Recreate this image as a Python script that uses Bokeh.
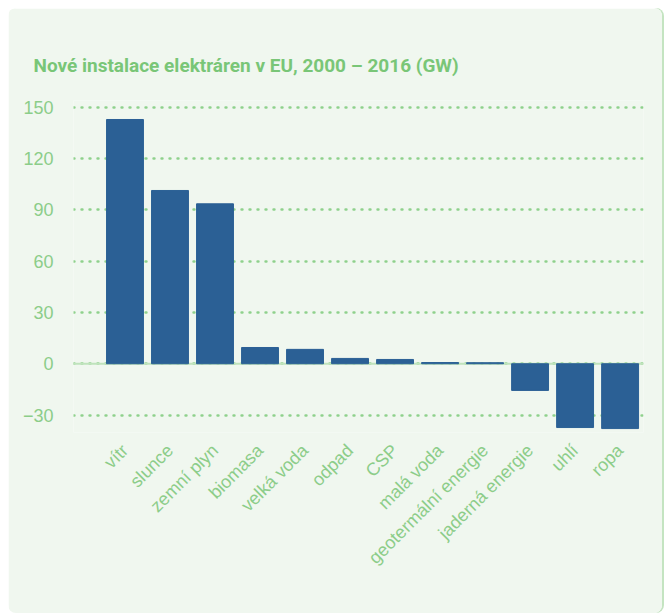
import math
from bokeh.plotting import figure
from bokeh.models import FixedTicker, Range1d, Span, ColumnDataSource
from bokeh.embed import file_html
from bokeh.resources import INLINE

categories = ["vítr", "slunce", "zemní plyn", "biomasa", "velká voda", "odpad", "CSP",
              "malá voda", "geotermální energie", "jaderná energie", "uhlí", "ropa"]
values = [142.8, 101.3, 93.5, 9.5, 8.4, 3.1, 2.5, 0.7, 0.6, -15.6, -37.3, -37.9]
y_ticks = [-30, 0, 30, 60, 90, 120, 150]
title_text = "Nové instalace elektráren v EU, 2000 – 2016 (GW)"

PANEL = "#f0f7ef"
BAR = "#2b6095"
GREEN_TXT = "#8ccd89"
TITLE_GREEN = "#79c677"
GRID = "#8fd18c"

src = ColumnDataSource(dict(x=list(range(len(categories))), top=values))

p = figure(width=654, height=605, output_backend="svg", toolbar_location=None,
           x_range=Range1d(-1.144, 11.52), y_range=Range1d(-40.2, 153.9),
           min_border_left=65, min_border_right=19, min_border_top=92, min_border_bottom=181,
           background_fill_color=PANEL, border_fill_color=PANEL, outline_line_color=None)
p.margin = (8, 2, 1, 8)
p.styles = {"border-radius": "8px", "overflow": "hidden", "box-shadow": "2px 0 0 #c4e4c1"}

p.title.text = title_text
p.title.text_font = "Roboto"
p.title.text_font_style = "bold"
p.title.text_font_size = "19px"
p.title.text_color = TITLE_GREEN
p.title.align = "left"
p.title.offset = -40
p.title.standoff = 48

p.add_layout(Span(location=0, dimension="width", line_color="#bfe3bc", line_width=2, level="underlay"))

p.vbar(x="x", top="top", bottom=0, width=0.82, color=BAR, source=src)

p.xgrid.grid_line_color = None
p.ygrid.ticker = FixedTicker(ticks=y_ticks)
p.ygrid.grid_line_color = GRID
p.ygrid.grid_line_width = 2.4
p.ygrid.grid_line_dash = "1 7"
p.ygrid.grid_line_cap = "round"

xa = p.xaxis[0]
xa.ticker = FixedTicker(ticks=list(range(len(categories))))
xa.major_label_overrides = {i: c for i, c in enumerate(categories)}
xa.major_label_orientation = math.pi / 4
xa.axis_line_color = None
xa.major_tick_line_color = None
xa.minor_tick_line_color = None
xa.major_label_standoff = 9
xa.major_label_text_font = "Liberation Sans"
xa.major_label_text_font_size = "18px"
xa.major_label_text_color = GREEN_TXT

ya = p.yaxis[0]
ya.ticker = FixedTicker(ticks=y_ticks)
ya.axis_line_color = None
ya.major_tick_line_color = None
ya.minor_tick_line_color = None
ya.major_label_standoff = 14
ya.major_label_text_font = "Liberation Sans"
ya.major_label_text_font_size = "18px"
ya.major_label_text_color = GREEN_TXT

open("out.html", "w").write(file_html(p, INLINE))
